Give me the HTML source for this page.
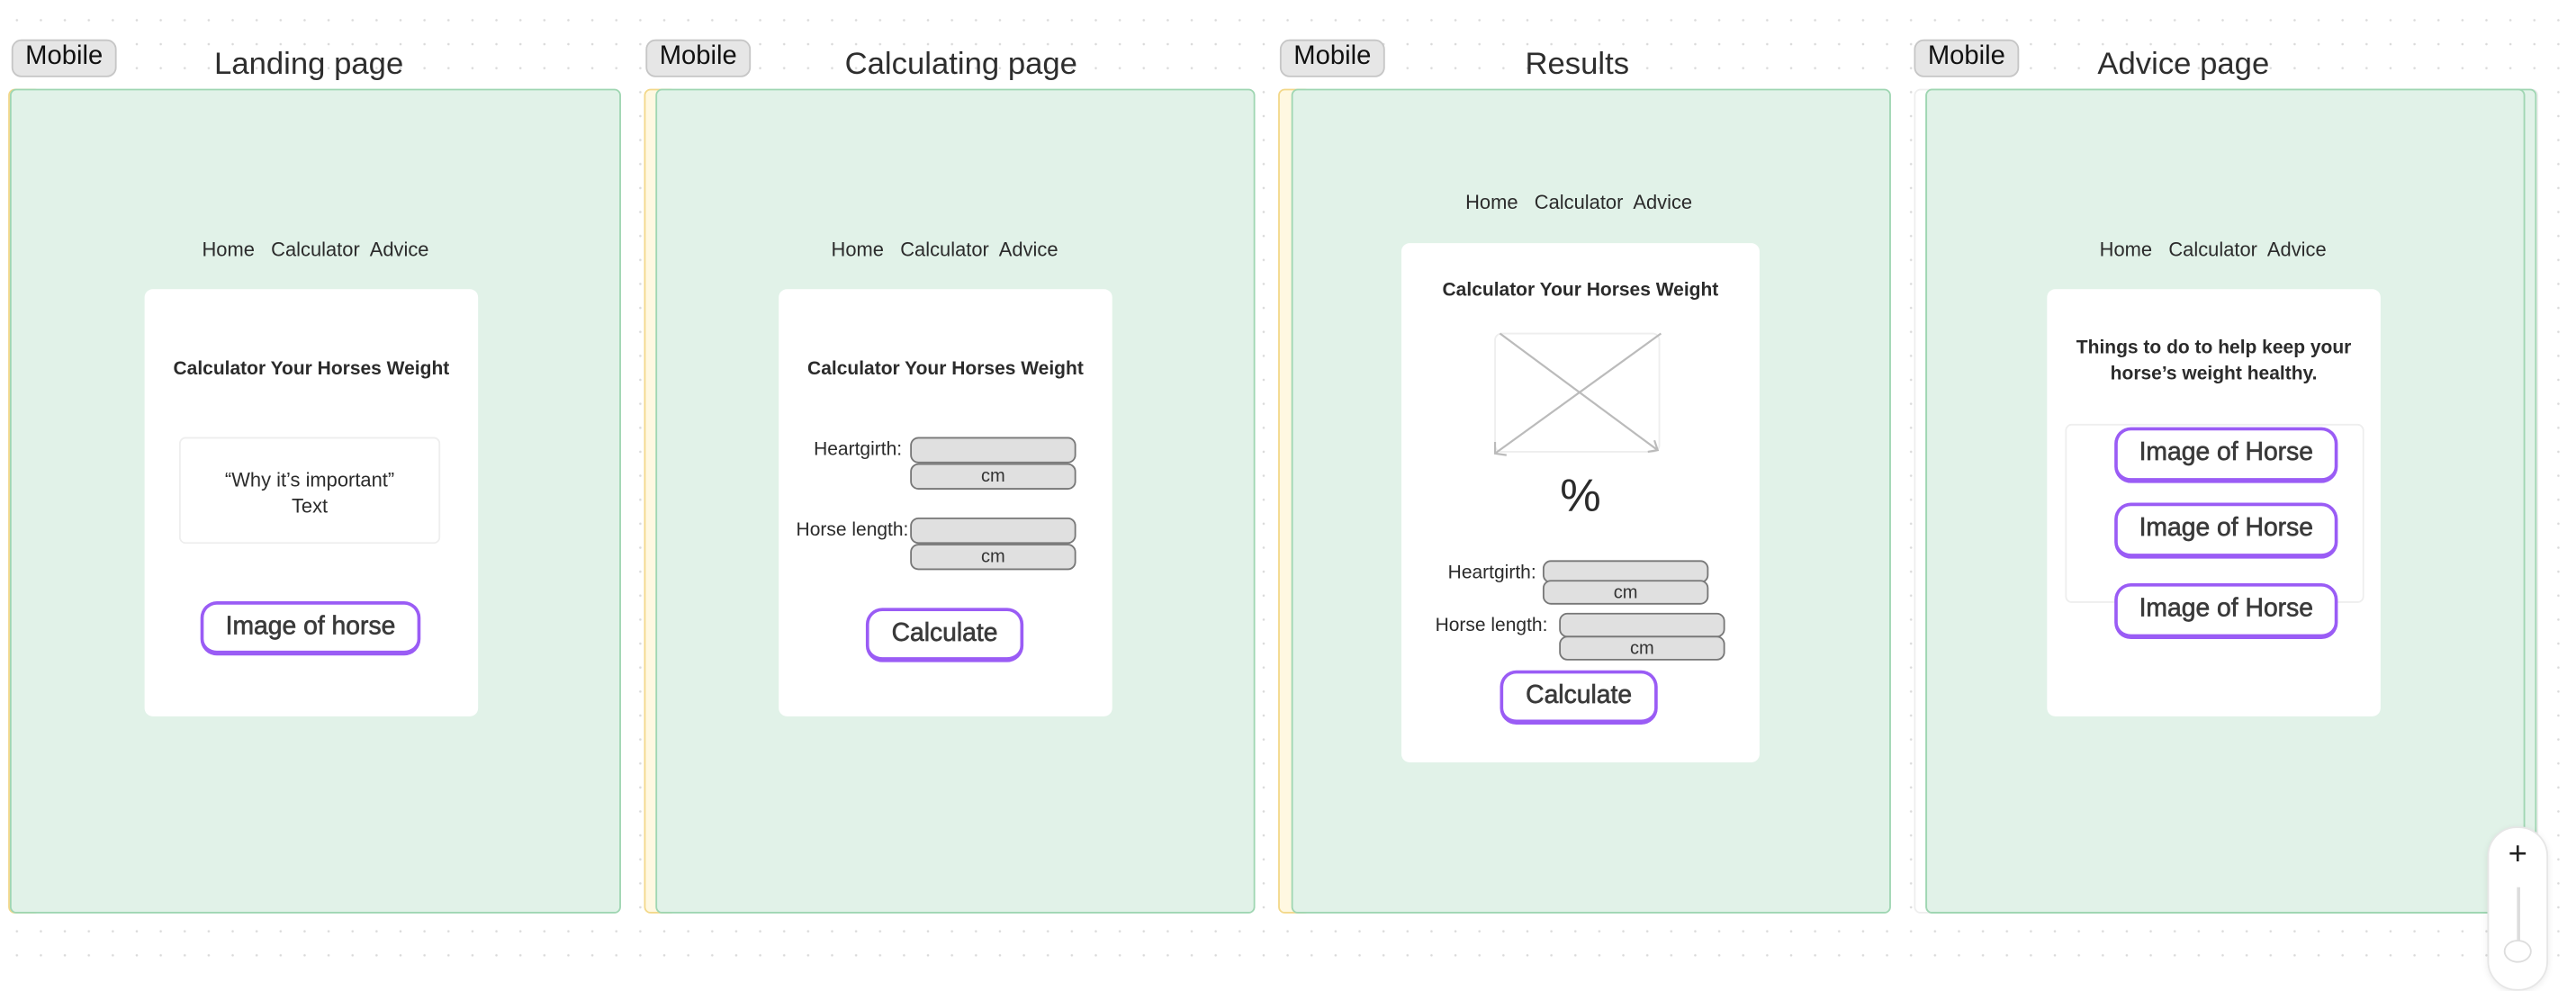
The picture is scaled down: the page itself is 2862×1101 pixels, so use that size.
<!DOCTYPE html>
<html><head><meta charset="utf-8"><style>
html,body{margin:0;padding:0;width:2862px;height:1079px;overflow:hidden;background:#fff;}
#wrap{position:absolute;left:0;top:0;width:1568px;height:592px;transform:scale(1.8253);transform-origin:0 0;
background-color:#fff;background-image:radial-gradient(circle,#dadada 0.55px,transparent 0.85px);background-size:14.6px 14.6px;background-position:3px 5px;
font-family:"Liberation Sans",sans-serif;color:#2b2b2b;}
.a{position:absolute;box-sizing:border-box;}
.badge{background:#e6e6e6;border:1.5px solid #c6c6c6;border-radius:6px;width:64px;height:23px;font-size:16px;color:#111;text-align:center;line-height:20px;}
.title{font-size:19px;color:#2e2e2e;text-align:center;width:300px;}
.yel{background:#fff8e1;border:1px solid #f3d88a;border-radius:4px;}
.frame{background:#e1f2e8;border:1px solid #9fd6b2;border-radius:4px;}
.nav{font-size:12px;text-align:center;width:200px;white-space:pre;}
.card{background:#fff;border-radius:5px;}
.ct{font-size:11.5px;font-weight:bold;text-align:center;}
.btn{background:#fff;border:2px solid #9a5cf5;border-bottom-width:3.5px;border-radius:10px;font-size:15.5px;color:#3a3a3a;text-align:center;-webkit-text-stroke:0.35px #3a3a3a;}
.inp{background:#e0e0e0;border:1px solid #777;border-radius:5px;font-size:11px;text-align:center;line-height:14px;color:#333;}
.lbl{font-size:11.5px;text-align:right;width:90px;}
</style></head><body>
<div id="wrap">

<div class="a badge" style="left:7px;top:24px">Mobile</div>
<div class="a title" style="left:38px;top:29px">Landing page</div>
<div class="a yel" style="left:5px;top:54px;width:20px;height:502px"></div>
<div class="a frame" style="left:6px;top:54px;width:372px;height:502px">
  <div class="a nav" style="left:85px;top:90px">Home   Calculator  Advice</div>
  <div class="a card" style="left:81px;top:121px;width:203px;height:260px">
    <div class="a ct" style="left:0;top:43px;width:203px">Calculator Your Horses Weight</div>
    <div class="a" style="left:21px;top:90px;width:159px;height:65px;border:1px solid #eee;border-radius:4px;font-size:12px;text-align:center;line-height:16px;padding-top:17px">“Why it’s important”<br>Text</div>
    <div class="a btn" style="left:34px;top:190px;width:134px;height:33px;line-height:27px">Image of horse</div>
  </div>
</div>

<div class="a badge" style="left:393px;top:24px">Mobile</div>
<div class="a title" style="left:435px;top:29px">Calculating page</div>
<div class="a yel" style="left:392px;top:54px;width:20px;height:502px"></div>
<div class="a frame" style="left:399px;top:54px;width:365px;height:502px">
  <div class="a nav" style="left:75px;top:90px">Home   Calculator  Advice</div>
  <div class="a card" style="left:74px;top:121px;width:203px;height:260px">
    <div class="a ct" style="left:0;top:43px;width:203px">Calculator Your Horses Weight</div>
    <div class="a lbl" style="left:-15px;top:92px">Heartgirth:</div>
    <div class="a inp" style="left:80px;top:90px;width:101px;height:16px"></div>
    <div class="a inp" style="left:80px;top:106px;width:101px;height:16px">cm</div>
    <div class="a lbl" style="left:-11px;top:141px">Horse length:</div>
    <div class="a inp" style="left:80px;top:139px;width:101px;height:16px"></div>
    <div class="a inp" style="left:80px;top:155px;width:101px;height:16px">cm</div>
    <div class="a btn" style="left:53px;top:194px;width:96px;height:33px;line-height:27px">Calculate</div>
  </div>
</div>

<div class="a badge" style="left:779px;top:24px">Mobile</div>
<div class="a title" style="left:810px;top:29px">Results</div>
<div class="a yel" style="left:778px;top:54px;width:20px;height:502px"></div>
<div class="a frame" style="left:786px;top:54px;width:365px;height:502px">
  <div class="a nav" style="left:74px;top:61px">Home   Calculator  Advice</div>
  <div class="a card" style="left:66px;top:93px;width:218px;height:316px">
    <div class="a ct" style="left:0;top:23px;width:218px">Calculator Your Horses Weight</div>
    <svg class="a" style="left:56px;top:54px" width="104" height="76">
      <rect x="1" y="1" width="100" height="72" rx="4" fill="none" stroke="#eee"/>
      <line x1="4" y1="1" x2="100" y2="72" stroke="#bbb" stroke-width="1.2"/>
      <line x1="102" y1="1" x2="1" y2="74" stroke="#bbb" stroke-width="1.2"/>
      <polyline points="1,67 1,74 8,75" fill="none" stroke="#bbb" stroke-width="1.2"/>
      <polyline points="94,73 100,72 98,66" fill="none" stroke="#bbb" stroke-width="1.2"/>
    </svg>
    <div class="a" style="left:0;top:138px;width:218px;text-align:center;font-size:28px">%</div>
    <div class="a lbl" style="left:-8px;top:195px">Heartgirth:</div>
    <div class="a inp" style="left:86px;top:193px;width:101px;height:14px"></div>
    <div class="a inp" style="left:86px;top:205px;width:101px;height:15px">cm</div>
    <div class="a lbl" style="left:-1px;top:227px">Horse length:</div>
    <div class="a inp" style="left:96px;top:225px;width:101px;height:15px"></div>
    <div class="a inp" style="left:96px;top:239px;width:101px;height:15px">cm</div>
    <div class="a btn" style="left:60px;top:260px;width:96px;height:33px;line-height:27px">Calculate</div>
  </div>
</div>

<div class="a badge" style="left:1165px;top:24px">Mobile</div>
<div class="a title" style="left:1179px;top:29px">Advice page</div>
<div class="a" style="left:1165px;top:54px;width:380px;height:502px;border:1px solid #eee;border-radius:4px"></div>
<div class="a frame" style="left:1172px;top:54px;width:372px;height:502px"></div>
<div class="a frame" style="left:1172px;top:54px;width:365px;height:502px">
  <div class="a nav" style="left:74px;top:90px">Home   Calculator  Advice</div>
  <div class="a card" style="left:73px;top:121px;width:203px;height:260px">
    <div class="a ct" style="left:0;top:28px;width:203px;line-height:16px">Things to do to help keep your<br>horse’s weight healthy.</div>
    <div class="a" style="left:11px;top:82px;width:182px;height:109px;border:1px solid #eee;border-radius:4px"></div>
    <div class="a btn" style="left:41px;top:84px;width:136px;height:34px;line-height:28px">Image of Horse</div>
    <div class="a btn" style="left:41px;top:130px;width:136px;height:34px;line-height:28px">Image of Horse</div>
    <div class="a btn" style="left:41px;top:179px;width:136px;height:34px;line-height:28px">Image of Horse</div>
  </div>
</div>

<div class="a" style="left:1514px;top:503px;width:37px;height:100px;background:#fff;border:1px solid #e6e6e6;border-radius:18px;box-shadow:0 1px 4px rgba(0,0,0,0.08)">
  <div class="a" style="left:0;top:4px;width:35px;text-align:center;font-size:20px;color:#222;line-height:24px">+</div>
  <div class="a" style="left:17px;top:36px;width:2px;height:40px;background:#ddd"></div>
  <div class="a" style="left:9px;top:68px;width:17px;height:14px;border-radius:50%;background:#fff;border:1px solid #ddd"></div>
</div>

</div>
</body></html>
